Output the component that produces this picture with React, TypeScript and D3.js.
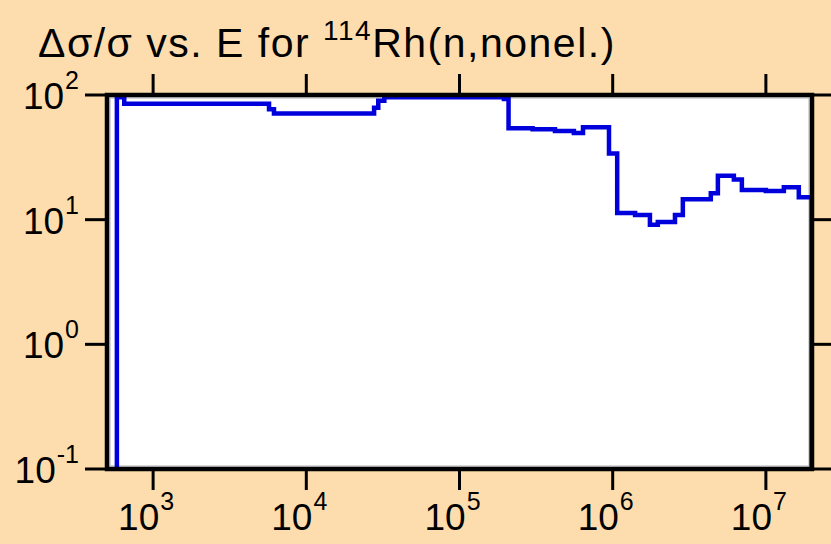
import { useRef, useEffect } from 'react';
import * as d3 from 'd3';

// bin edges (eV) and relative uncertainty (%) per bin
const ENERGY_EDGES = [
  580, 648, 5710, 6150, 27700, 29500, 32300, 195000, 209000, 300000, 420000,
  558000, 640000, 946000, 1.07e6, 1.4e6, 1.75e6, 1.97e6, 2.55e6, 2.87e6,
  4.37e6, 4.86e6, 6.18e6, 6.97e6, 1.0e7, 1.31e7, 1.64e7, 1.99e7,
];
const REL_UNC = [
  96, 85, 77, 71, 79, 90, 96, 93, 54, 53, 51.5, 49.5, 55, 34, 11.3, 10.9, 9.1,
  9.6, 10.9, 14.6, 16.3, 22.5, 21.0, 17.3, 17.0, 18.2, 15.1,
];
const X_TICKS = [1e3, 1e4, 1e5, 1e6, 1e7];
const Y_TICKS = [0.1, 1, 10, 100];

const W = 831;
const H = 544;
const BOX = { left: 107, right: 812, top: 95, bottom: 469 };
const BG = '#FDDDAD';
const FONT = 'Liberation Sans, Arial, sans-serif';

export default function App() {
  const svgRef = useRef<SVGSVGElement>(null);

  useEffect(() => {
    const svg = svgRef.current;
    if (!svg) return;
    const root = d3.select(svg);
    root.selectAll('*').remove();

    const x = d3.scaleLog().domain([500, 2e7]).range([BOX.left, BOX.right]);
    const y = d3.scaleLog().domain([0.1, 100]).range([BOX.bottom, BOX.top]);

    root.append('rect').attr('width', W).attr('height', H).attr('fill', BG);

    // Plot area
    root.append('rect')
      .attr('x', BOX.left)
      .attr('y', BOX.top)
      .attr('width', BOX.right - BOX.left)
      .attr('height', BOX.bottom - BOX.top)
      .attr('fill', '#fff');
    root.append('rect')
      .attr('x', BOX.left + 3)
      .attr('y', BOX.top + 3)
      .attr('width', BOX.right - BOX.left - 6)
      .attr('height', BOX.bottom - BOX.top - 6)
      .attr('fill', 'none')
      .attr('stroke', '#b0b0b0')
      .attr('stroke-width', 1);

    // Step line
    const pts: [number, number][] = [[ENERGY_EDGES[0], 0.1]];
    REL_UNC.forEach((v, i) => {
      pts.push([ENERGY_EDGES[i], v]);
      pts.push([ENERGY_EDGES[i + 1], v]);
    });
    pts.push([ENERGY_EDGES[ENERGY_EDGES.length - 1], 0.1]);
    const line = d3.line<[number, number]>()
      .x((d) => x(d[0]))
      .y((d) => y(d[1]));
    root.append('path')
      .attr('d', line(pts))
      .attr('fill', 'none')
      .attr('stroke', '#0000DD')
      .attr('stroke-width', 4.5)
      .attr('stroke-linejoin', 'miter');

    // Frame
    root.append('rect')
      .attr('x', BOX.left)
      .attr('y', BOX.top)
      .attr('width', BOX.right - BOX.left)
      .attr('height', BOX.bottom - BOX.top)
      .attr('fill', 'none')
      .attr('stroke', '#000')
      .attr('stroke-width', 4.5);

    // Ticks
    const tickLen = 21;
    X_TICKS.forEach((t) => {
      const px = x(t);
      root.append('line')
        .attr('x1', px).attr('x2', px)
        .attr('y1', BOX.top).attr('y2', BOX.top - tickLen)
        .attr('stroke', '#000').attr('stroke-width', 3);
      root.append('line')
        .attr('x1', px).attr('x2', px)
        .attr('y1', BOX.bottom).attr('y2', BOX.bottom + tickLen)
        .attr('stroke', '#000').attr('stroke-width', 3);
      const label = root.append('text')
        .attr('x', px - 7)
        .attr('y', 530)
        .attr('text-anchor', 'middle')
        .attr('font-family', FONT)
        .attr('font-size', 37)
        .attr('fill', '#000');
      label.append('tspan').text('10');
      label.append('tspan')
        .attr('font-size', 25)
        .attr('dy', -20)
        .attr('dx', 1)
        .text(String(Math.round(Math.log10(t))));
    });
    Y_TICKS.forEach((t) => {
      const py = y(t);
      root.append('line')
        .attr('x1', BOX.left).attr('x2', BOX.left - tickLen - 1)
        .attr('y1', py).attr('y2', py)
        .attr('stroke', '#000').attr('stroke-width', 3);
      root.append('line')
        .attr('x1', BOX.right).attr('x2', BOX.right + tickLen)
        .attr('y1', py).attr('y2', py)
        .attr('stroke', '#000').attr('stroke-width', 3);
      const label = root.append('text')
        .attr('x', 79)
        .attr('y', py + 14)
        .attr('text-anchor', 'end')
        .attr('font-family', FONT)
        .attr('font-size', 37)
        .attr('fill', '#000');
      label.append('tspan').text('10');
      label.append('tspan')
        .attr('font-size', 25)
        .attr('dy', -20)
        .attr('dx', 1)
        .text(String(Math.round(Math.log10(t))));
    });

    // Title
    const title = root.append('text')
      .attr('x', 38)
      .attr('y', 57)
      .attr('font-family', FONT)
      .attr('font-size', 41)
      .attr('letter-spacing', 1.5)
      .attr('fill', '#000');
    title.append('tspan').text('\u0394\u03c3/\u03c3 vs. E for ');
    title.append('tspan').attr('font-size', 28).attr('dy', -17).text('114');
    title.append('tspan').attr('dy', 17).text('Rh(n,nonel.)');
  }, []);

  return (
    <svg
      ref={svgRef}
      width={W}
      height={H}
      style={{ position: 'absolute', left: 0, top: 0, display: 'block' }}
    />
  );
}
